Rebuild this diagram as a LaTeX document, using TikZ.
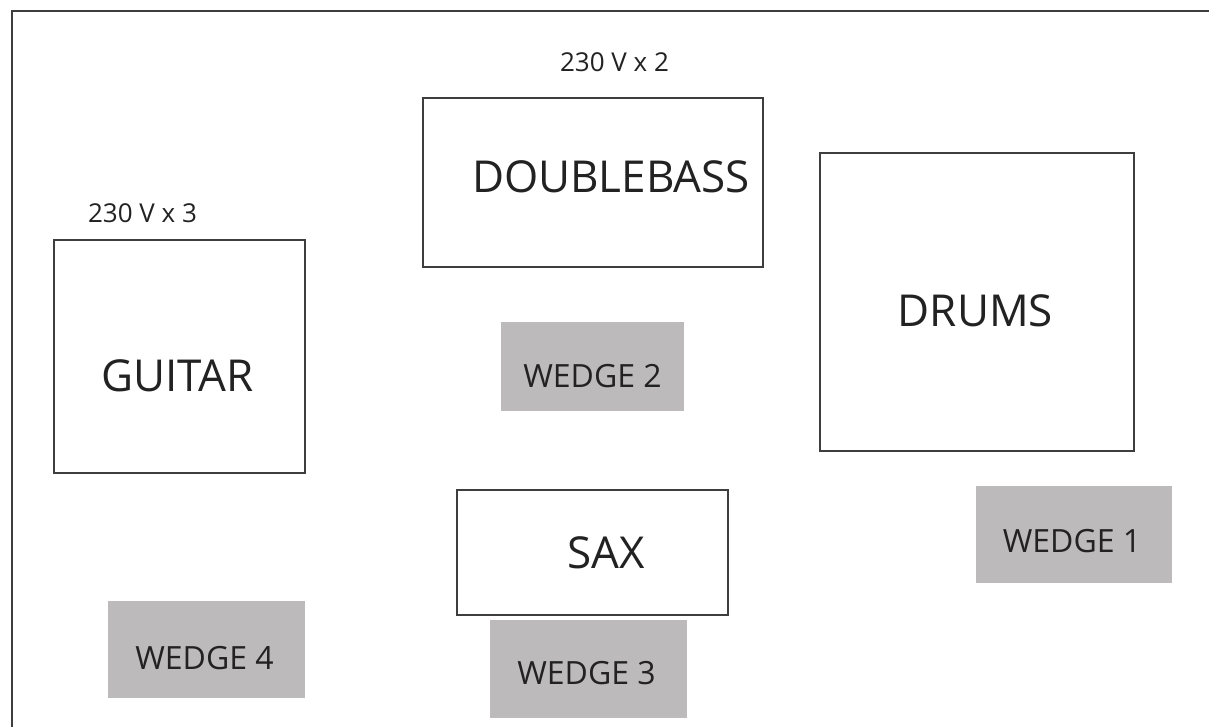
\documentclass[tikz,border=0pt]{standalone}
\usepackage{fontspec}
\setmainfont{Open Sans}
\definecolor{linegray}{HTML}{3E3E3E}
\definecolor{wedgegray}{HTML}{BDBABB}
\definecolor{txt}{HTML}{222222}
\begin{document}
\begin{tikzpicture}[x=1pt,y=-1pt,
  stagebox/.style={draw=linegray, line width=2pt, fill=white, inner sep=0pt, outer sep=0pt},
  wedgebox/.style={fill=wedgegray, draw=none, inner sep=0pt, outer sep=0pt},
  bigtext/.style={text=txt, inner sep=0pt, font=\fontsize{44}{48}\selectfont},
  wedgetext/.style={text=txt, inner sep=0pt, font=\fontsize{32}{36}\selectfont},
  volttext/.style={text=txt, inner sep=0pt, font=\fontsize{26}{30}\selectfont}]
\useasboundingbox (0,0) rectangle (1209,726);
\fill[white] (0,0) rectangle (1209,726);
% frame
\coordinate (fbl) at (12,727);
\coordinate (ftl) at (12,11);
\coordinate (ftr) at (1210,11);
\draw[linegray, line width=2.2pt] (fbl) -- (ftl) -- (ftr);
% instrument boxes
\node[stagebox, minimum width=340pt, minimum height=169pt] (bass) at (593,182.5) {};
\node[stagebox, minimum width=251pt, minimum height=233pt] (guitar) at (179.5,356.5) {};
\node[stagebox, minimum width=314pt, minimum height=298pt] (drums) at (977,302) {};
\node[stagebox, minimum width=271pt, minimum height=125pt] (sax) at (592.5,552.5) {};
% wedges
\node[wedgebox, minimum width=183pt, minimum height=89pt] (w2) at (592.5,366.5) {};
\node[wedgebox, minimum width=196pt, minimum height=97pt] (w1) at (1074,534.5) {};
\node[wedgebox, minimum width=197pt, minimum height=98pt] (w3) at (588.5,669) {};
\node[wedgebox, minimum width=197pt, minimum height=97pt] (w4) at (206.5,649.5) {};
% labels
\node[bigtext] (tbass) at (611,177) {DOUBLEBASS};
\node[bigtext] (tguitar) at (177.5,376) {GUITAR};
\node[bigtext] (tdrums) at (975.5,311) {DRUMS};
\node[bigtext] (tsax) at (606,553) {SAX};
\node[wedgetext] (tw2) at (592.5,376) {WEDGE 2};
\node[wedgetext] (tw1) at (1072,541) {WEDGE 1};
\node[wedgetext] (tw3) at (586.5,673) {WEDGE 3};
\node[wedgetext] (tw4) at (204.5,658) {WEDGE 4};
\node[volttext] (v3) at (142.5,213) {230 V x 3};
\node[volttext] (v2) at (614.5,62) {230 V x 2};
\end{tikzpicture}
\end{document}
